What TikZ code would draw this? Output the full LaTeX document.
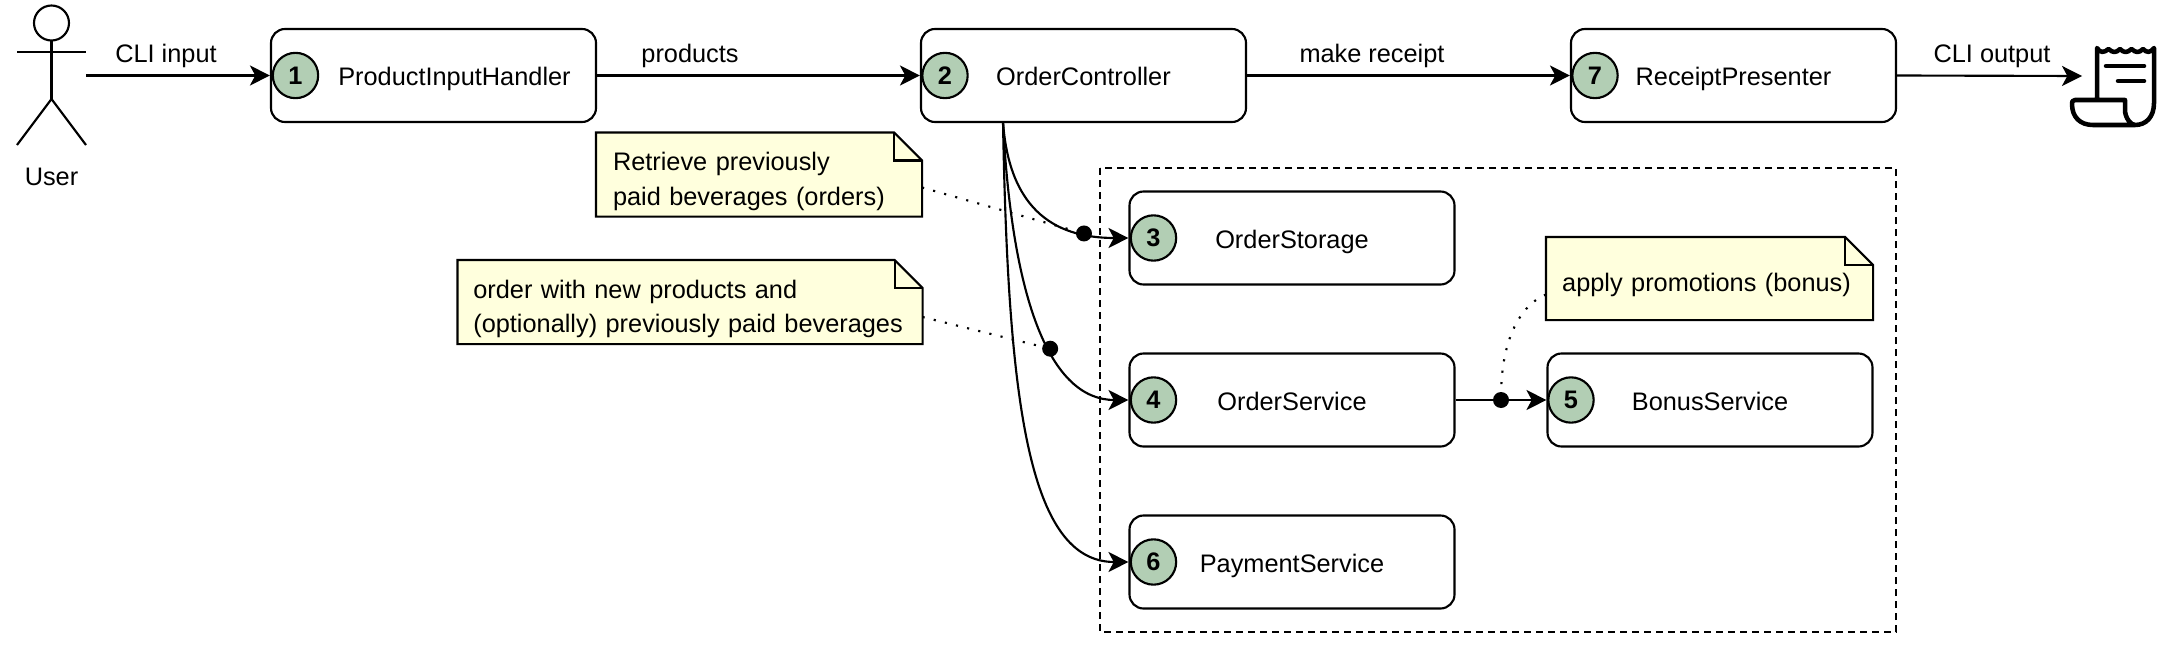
\documentclass[tikz,border=0pt]{standalone}
\usepackage{fontspec}
\setmainfont{Liberation Sans}
\usetikzlibrary{arrows.meta,backgrounds,calc}

\definecolor{sagefill}{HTML}{B2CEB4}
\definecolor{notefill}{HTML}{FFFFDD}

\tikzset{every picture/.style={line width=1.6pt}}
\tikzset{
  svcbox/.style={draw,rounded corners=10.5pt,minimum width=243.75pt,minimum height=69.75pt,inner sep=0pt,text height=15.5pt,text depth=0pt},
  numdot/.style={circle,draw,fill=sagefill,minimum size=34pt,inner sep=0pt,font=\bfseries},
  flowline/.style={-{Stealth[length=15pt,width=15pt,inset=4pt]}},
  tapdot/.style={circle,fill=black,minimum size=12pt,inner sep=0pt},
  dotline/.style={dash pattern=on 1.6pt off 7pt},
  notebox/.style={inner sep=0pt,align=left},
  noteline/.style={line width=1.6pt,draw=black},
  lbl/.style={anchor=base,inner sep=0pt},
}

\newcommand{\notefold}[1]{%
  \begin{scope}[on background layer]
    \draw[noteline,fill=notefill] (#1.south west) -- (#1.north west) -- ($(#1.north east)+(-28,0)$) -- ($(#1.north east)+(0,28)$) -- (#1.south east) -- cycle ;
    \draw[noteline] ($(#1.north east)+(-28,0)$) -- ($(#1.north east)+(-28,28)$) -- ($(#1.north east)+(0,28)$) ;
  \end{scope}}
\newcommand{\notelift}{\rule{0pt}{24pt}}

\begin{document}
\begin{tikzpicture}[x=0.75pt,y=0.75pt,yscale=-1,xscale=1]
\fontsize{19}{26}\selectfont
\useasboundingbox (0,0) rectangle (2178,646);

%Group frame
\draw [dash pattern=on 5pt off 4pt] (1100,168) rectangle (1896,632) ;

%User
\draw (51.5,23) circle (17.5) ;
\draw (51.5,40.5) -- (51.5,99) ;
\draw (17,52) -- (86,52) ;
\draw (17,145) -- (51.5,99) -- (86,145) ;
\coordinate (userhand) at (86,75.5) ;
\node [lbl] (userlabel) at (51.5,185.5) {User};

%Services
\node [svcbox] (inputhandler) at (433.5,75.5) {\hspace*{31.5pt}ProductInputHandler};
\node [svcbox] (controller) at (1083.5,75.5) {OrderController};
\node [svcbox] (presenter) at (1733.5,75.5) {ReceiptPresenter};
\node [svcbox] (storage) at (1292,238) {OrderStorage};
\node [svcbox] (orderservice) at (1292,400) {OrderService};
\node [svcbox] (payment) at (1292,562) {PaymentService};
\node [svcbox] (bonus) at (1710,400) {BonusService};

%Numbers
\node [numdot] (num1) at (295.5,75.5) {1};
\node [numdot] (num2) at (945,75.5) {2};
\node [numdot] (num3) at (1153.5,238) {3};
\node [numdot] (num4) at (1153.5,400) {4};
\node [numdot] (num5) at (1571,400) {5};
\node [numdot] (num6) at (1153.5,562) {6};
\node [numdot] (num7) at (1595,75.5) {7};

%Receipt icon
\coordinate (receipt) at (2082,76) ;
\begin{scope}[line width=3.4pt,line cap=round,line join=round]
\draw (2097,100) -- (2097,48) .. controls (2100,53) and (2104,53) .. (2108.5,49) .. controls (2113,53) and (2116,53) .. (2120,49) .. controls (2124,53) and (2127,53) .. (2131.5,49) .. controls (2136,53) and (2139,53) .. (2143,49) .. controls (2147,53) and (2150,53) .. (2154,48) -- (2154,103) .. controls (2154,117) and (2146,125) .. (2135,125) .. controls (2131,125) and (2125,118) .. (2125,110) -- (2125,100) -- (2075,100) .. controls (2072,100) and (2072,102) .. (2072,104) .. controls (2072,117) and (2080,125) .. (2093,125) -- (2135,125) ;
\draw (2106,66) -- (2144,66) ;
\draw (2118,81) -- (2144,81) ;
\end{scope}

%Notes
\node [notebox,minimum width=243pt,minimum height=61.5pt,text width=219pt] (retrievenote) at (759,174.5) {\notelift Retrieve previously\\paid beverages (orders)};
\notefold{retrievenote}
\node [notebox,minimum width=347.25pt,minimum height=61.5pt,text width=325pt] (ordernote) at (690,302) {\notelift order with new products and\\(optionally) previously paid beverages};
\notefold{ordernote}
\node [notebox,minimum width=243.75pt,minimum height=60.75pt,text width=221pt] (bonusnote) at (1709.5,278.5) {\notelift apply promotions (bonus)};
\notefold{bonusnote}

%Connectors
\coordinate (tap) at (1003,122) ;
\draw [flowline] (userhand) -- (inputhandler.west) ;
\draw [flowline] (inputhandler.east) -- (controller.west) ;
\draw [flowline] (controller.east) -- (presenter.west) ;
\draw [flowline] (presenter.east) -- (receipt) ;
\draw [flowline] (tap) .. controls (1009,205) and (1050,238) .. node [tapdot,pos=0.79] (storagedot) {} (storage.west) ;
\draw [flowline] (tap) .. controls (1012,300) and (1050,400) .. node [tapdot,pos=0.58] (orderdot) {} (orderservice.west) ;
\draw [flowline] (tap) .. controls (1008,400) and (1028,562) .. (payment.west) ;
\draw [flowline] (orderservice.east) -- node [tapdot,pos=0.5] (bonusdot) {} (bonus.west) ;

\draw [dotline] (retrievenote.east) ++(0,13) -- (storagedot) ;
\draw [dotline] (ordernote.east) ++(0,15) -- (orderdot) ;
\draw [dotline] (bonusnote.west) ++(0,16) .. controls (1520,305) and (1502,340) .. (bonusdot) ;

%Edge labels
\node [lbl] (inputlabel) at (166,62) {CLI input};
\node [lbl] (productslabel) at (690,62) {products};
\node [lbl] (makelabel) at (1372,62) {make receipt};
\node [lbl] (outputlabel) at (1992,62) {CLI output};

\end{tikzpicture}
\end{document}
